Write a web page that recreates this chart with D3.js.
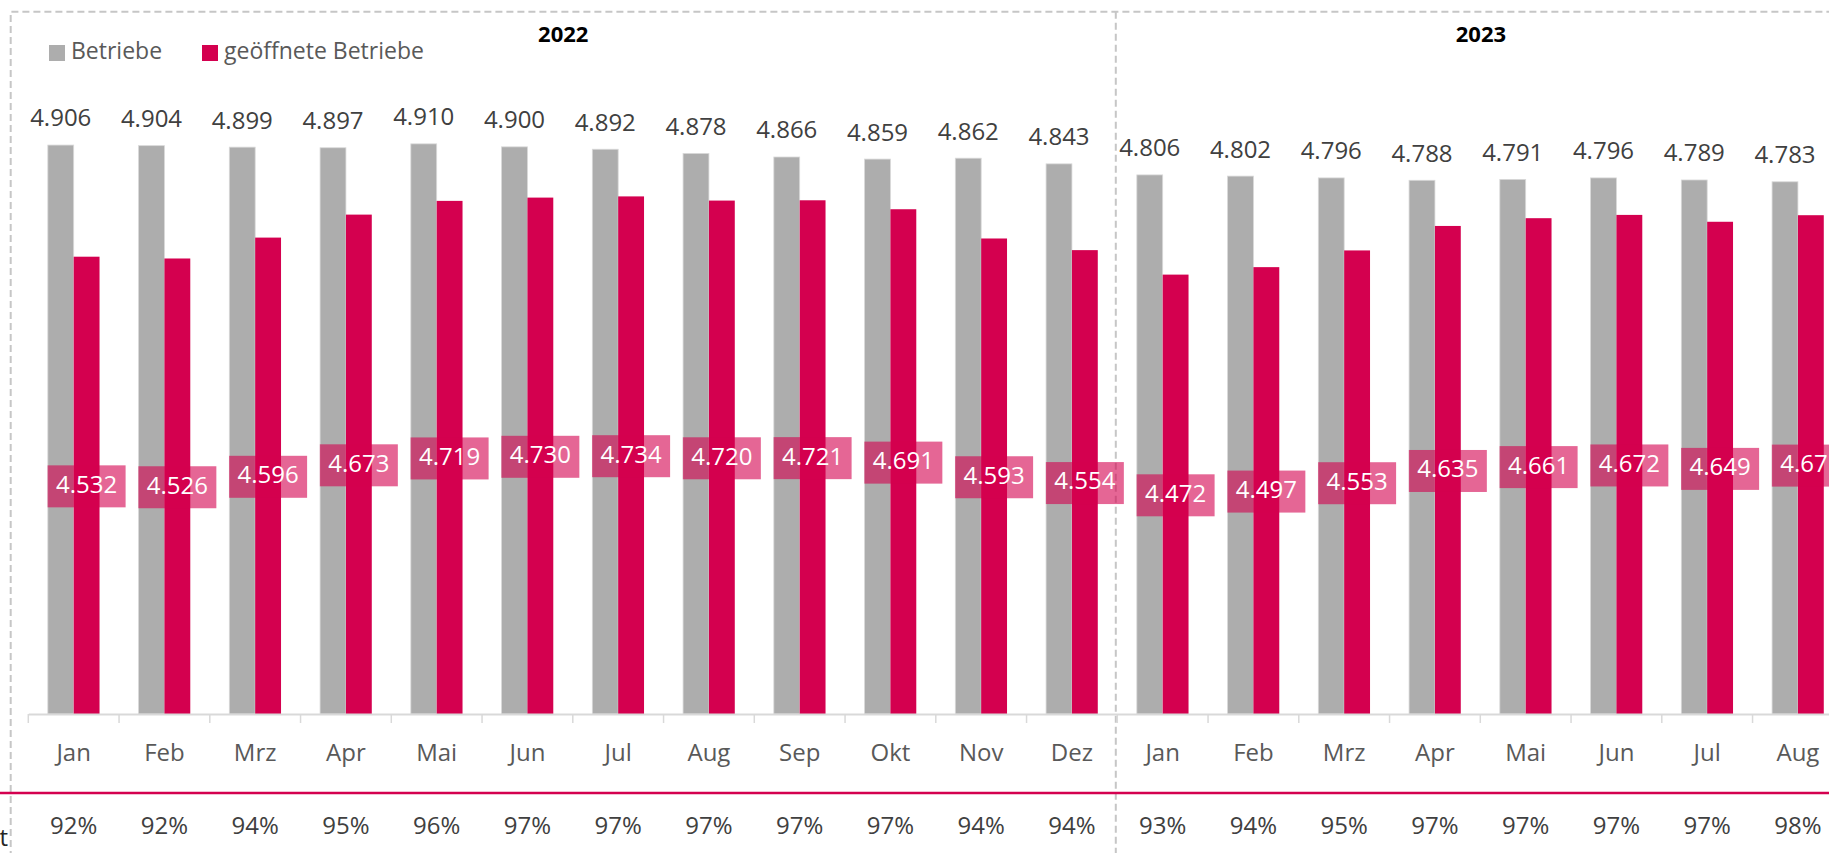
<!DOCTYPE html>
<html>
<head>
<meta charset="utf-8">
<script src="https://cdn.jsdelivr.net/npm/d3@7"></script>
<style>
  body { margin: 0; background: #fff; overflow: hidden; }
  svg { display: block; font-family: "Open Sans", sans-serif; }
</style>
</head>
<body>
<div id="chart"></div>
<script>
// months and years
const years = ["2022", "2023"];
const months2022 = ["Jan", "Feb", "Mrz", "Apr", "Mai", "Jun", "Jul", "Aug", "Sep", "Okt", "Nov", "Dez"];
const months2023 = ["Jan", "Feb", "Mrz", "Apr", "Mai", "Jun", "Jul", "Aug"];

// Betriebe (grey) and geöffnete Betriebe (pink)
const betriebe2022 = [4906, 4904, 4899, 4897, 4910, 4900, 4892, 4878, 4866, 4859, 4862, 4843];
const betriebe2023 = [4806, 4802, 4796, 4788, 4791, 4796, 4789, 4783];
const offen2022 = [4532, 4526, 4596, 4673, 4719, 4730, 4734, 4720, 4721, 4691, 4593, 4554];
const offen2023 = [4472, 4497, 4553, 4635, 4661, 4672, 4649, 4671];

// share of open businesses as printed under the axis
const anteil2022 = ["92%", "92%", "94%", "95%", "96%", "97%", "97%", "97%", "97%", "97%", "94%", "94%"];
const anteil2023 = ["93%", "94%", "95%", "97%", "97%", "97%", "97%", "98%"];

const W = 1829, H = 853;
const grey = "#adadad", pink = "#d4004f";

let rows = [];
months2022.forEach((m, i) => rows.push({key: "2022-" + m, month: m, year: "2022", b: betriebe2022[i], o: offen2022[i], p: anteil2022[i]}));
months2023.forEach((m, i) => rows.push({key: "2023-" + m, month: m, year: "2023", b: betriebe2023[i], o: offen2023[i], p: anteil2023[i]}));

const svg = d3.select("#chart").append("svg").attr("width", W).attr("height", H);

const step = 90.75;
const x0 = d3.scaleBand().domain(rows.map(d => d.key)).range([28.3, 28.3 + rows.length * step]).padding(0);
const x1 = d3.scaleBand().domain(["b", "o"]).range([0, x0.bandwidth()]).paddingInner(0).paddingOuter(0.755);
const y = d3.scaleLinear().domain([3000, 5000]).range([714, 117]);
const base = y(3000);
const fmt = v => d3.format(",")(v).replace(",", ".");

// dashed frame + year separator
const sepX = x0(rows[12].key) - 1.5;
const frameL = 10.7, frameT = 11.7, frameR = 1846;
svg.append("path")
  .attr("d", `M${frameL},${H + 5} V${frameT} H${W + 5}`)
  .attr("fill", "none").attr("stroke", "#c6c6c6").attr("stroke-width", 2).attr("stroke-dasharray", "7,4");
svg.append("line")
  .attr("x1", sepX).attr("x2", sepX).attr("y1", frameT).attr("y2", H)
  .attr("stroke", "#c6c6c6").attr("stroke-width", 2).attr("stroke-dasharray", "7,4");

// year titles
svg.selectAll(".yr").data(years).enter().append("text")
  .attr("class", "yr")
  .attr("x", (d, i) => i == 0 ? (frameL + sepX) / 2 : (sepX + frameR) / 2)
  .attr("y", 36)
  .attr("text-anchor", "middle").attr("dominant-baseline", "middle")
  .attr("font-size", "22px").attr("font-weight", "bold").attr("fill", "#000")
  .text(d => d);

// legend
const legend = [{name: "Betriebe", c: grey, x: 49}, {name: "geöffnete Betriebe", c: pink, x: 202}];
const lg = svg.selectAll(".lg").data(legend).enter().append("g").attr("class", "lg")
  .attr("transform", d => `translate(${d.x},45)`);
lg.append("rect").attr("width", 16).attr("height", 16).attr("fill", d => d.c);
lg.append("text").attr("x", 22).attr("y", 8).attr("dominant-baseline", "middle")
  .attr("font-size", "23px").attr("fill", "#595959").text(d => d.name);

// bars
const grp = svg.selectAll(".grp").data(rows).enter().append("g")
  .attr("class", "grp").attr("transform", d => `translate(${x0(d.key)},0)`);

grp.append("rect")
  .attr("x", x1("b")).attr("width", x1.bandwidth())
  .attr("y", d => y(d.b)).attr("height", d => base - y(d.b))
  .attr("fill", grey).attr("stroke", "#d9d9d9").attr("stroke-width", 0.8);
grp.append("rect")
  .attr("x", x1("o")).attr("width", x1.bandwidth())
  .attr("y", d => y(d.o)).attr("height", d => base - y(d.o))
  .attr("fill", pink);

// value labels above grey bars
grp.append("text")
  .attr("x", x1("b") + x1.bandwidth() / 2)
  .attr("y", d => y(d.b) - 25)
  .attr("text-anchor", "middle").attr("dominant-baseline", "middle")
  .attr("font-size", "24px").attr("fill", "#404040")
  .text(d => fmt(d.b));

// centred labels on pink bars
const oc = x1("o") + x1.bandwidth() / 2;
grp.append("rect")
  .attr("x", oc - 39).attr("width", 78)
  .attr("y", d => (y(d.o) + base) / 2 - 20).attr("height", 42)
  .attr("fill", pink).attr("fill-opacity", 0.6);
grp.append("text")
  .attr("x", oc)
  .attr("y", d => (y(d.o) + base) / 2 + 1)
  .attr("text-anchor", "middle").attr("dominant-baseline", "middle")
  .attr("font-size", "24px").attr("fill", "#fff")
  .text(d => fmt(d.o));

// category axis
const monthOf = {};
rows.forEach(d => monthOf[d.key] = d.month);
const pctOf = {};
rows.forEach(d => pctOf[d.key] = d.p);

const xAxis = svg.append("g").attr("transform", `translate(0,${base})`)
  .call(d3.axisBottom(x0).tickSize(0).tickPadding(30).tickFormat(k => monthOf[k]));
xAxis.select(".domain").attr("stroke", "#d9d9d9").attr("stroke-width", 2);
xAxis.selectAll("text").attr("font-size", "24px").attr("fill", "#595959").attr("font-family", "Open Sans");

// boundary ticks between categories
svg.selectAll(".bt").data(rows).enter().append("line")
  .attr("x1", d => x0(d.key)).attr("x2", d => x0(d.key))
  .attr("y1", base).attr("y2", base + 9)
  .attr("stroke", "#d9d9d9").attr("stroke-width", 1.5);

// pink separator line and percentages
svg.append("line").attr("x1", 0).attr("x2", W).attr("y1", 793).attr("y2", 793)
  .attr("stroke", pink).attr("stroke-width", 2.5);
const pAxis = svg.append("g").attr("transform", `translate(0,793)`)
  .call(d3.axisBottom(x0).tickSize(0).tickPadding(24).tickFormat(k => pctOf[k]));
pAxis.select(".domain").remove();
pAxis.selectAll("text").attr("font-size", "24px").attr("fill", "#404040").attr("font-family", "Open Sans");

// cut-off row label at the left edge
svg.append("text").attr("x", 8).attr("y", 846).attr("text-anchor", "end")
  .attr("font-size", "24px").attr("fill", "#262626").text("Anteil geöffnet");
</script>
</body>
</html>
